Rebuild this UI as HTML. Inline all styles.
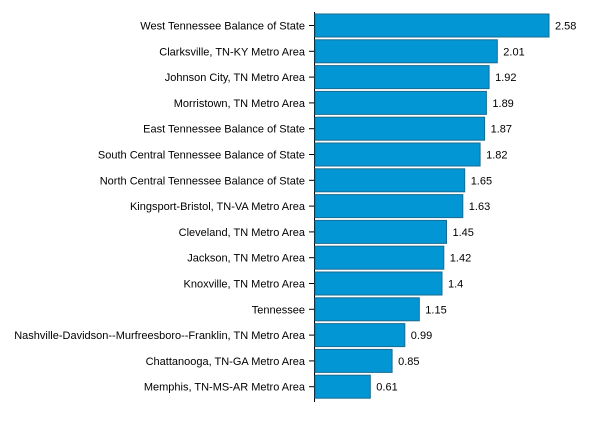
<!DOCTYPE html>
<html><head><style>body{margin:0;background:#fff}</style></head><body>
<svg width="600" height="420" xmlns="http://www.w3.org/2000/svg" font-family="Liberation Sans, sans-serif" font-size="11" fill="#000">
<defs><style>rect{fill:#0396d4;stroke:#1a6b91;stroke-width:1}line{stroke:#000;stroke-width:1}.l{text-anchor:end}</style></defs>
<line x1="314.5" y1="12" x2="314.5" y2="402"/>
<g transform="translate(0,14)"><rect x="315" y="0" width="234" height="23"/><line x1="309" x2="314" y1="11.5" y2="11.5"/><text class="l" x="305" y="15.5">West Tennessee Balance of State</text><text x="555" y="15.5">2.58</text></g>
<g transform="translate(0,39.8)"><rect x="315" y="0" width="182.3" height="23"/><line x1="309" x2="314" y1="11.5" y2="11.5"/><text class="l" x="305" y="15.5">Clarksville, TN-KY Metro Area</text><text x="503.3" y="15.5">2.01</text></g>
<g transform="translate(0,65.6)"><rect x="315" y="0" width="174.1" height="23"/><line x1="309" x2="314" y1="11.5" y2="11.5"/><text class="l" x="305" y="15.5">Johnson City, TN Metro Area</text><text x="495.1" y="15.5">1.92</text></g>
<g transform="translate(0,91.4)"><rect x="315" y="0" width="171.4" height="23"/><line x1="309" x2="314" y1="11.5" y2="11.5"/><text class="l" x="305" y="15.5">Morristown, TN Metro Area</text><text x="492.4" y="15.5">1.89</text></g>
<g transform="translate(0,117.2)"><rect x="315" y="0" width="169.6" height="23"/><line x1="309" x2="314" y1="11.5" y2="11.5"/><text class="l" x="305" y="15.5">East Tennessee Balance of State</text><text x="490.6" y="15.5">1.87</text></g>
<g transform="translate(0,143)"><rect x="315" y="0" width="165.1" height="23"/><line x1="309" x2="314" y1="11.5" y2="11.5"/><text class="l" x="305" y="15.5">South Central Tennessee Balance of State</text><text x="486.1" y="15.5">1.82</text></g>
<g transform="translate(0,168.8)"><rect x="315" y="0" width="149.7" height="23"/><line x1="309" x2="314" y1="11.5" y2="11.5"/><text class="l" x="305" y="15.5">North Central Tennessee Balance of State</text><text x="470.7" y="15.5">1.65</text></g>
<g transform="translate(0,194.6)"><rect x="315" y="0" width="147.8" height="23"/><line x1="309" x2="314" y1="11.5" y2="11.5"/><text class="l" x="305" y="15.5">Kingsport-Bristol, TN-VA Metro Area</text><text x="468.8" y="15.5">1.63</text></g>
<g transform="translate(0,220.4)"><rect x="315" y="0" width="131.5" height="23"/><line x1="309" x2="314" y1="11.5" y2="11.5"/><text class="l" x="305" y="15.5">Cleveland, TN Metro Area</text><text x="452.5" y="15.5">1.45</text></g>
<g transform="translate(0,246.2)"><rect x="315" y="0" width="128.8" height="23"/><line x1="309" x2="314" y1="11.5" y2="11.5"/><text class="l" x="305" y="15.5">Jackson, TN Metro Area</text><text x="449.8" y="15.5">1.42</text></g>
<g transform="translate(0,272)"><rect x="315" y="0" width="127" height="23"/><line x1="309" x2="314" y1="11.5" y2="11.5"/><text class="l" x="305" y="15.5">Knoxville, TN Metro Area</text><text x="448" y="15.5">1.4</text></g>
<g transform="translate(0,297.8)"><rect x="315" y="0" width="104.3" height="23"/><line x1="309" x2="314" y1="11.5" y2="11.5"/><text class="l" x="305" y="15.5">Tennessee</text><text x="425.3" y="15.5">1.15</text></g>
<g transform="translate(0,323.6)"><rect x="315" y="0" width="89.8" height="23"/><line x1="309" x2="314" y1="11.5" y2="11.5"/><text class="l" x="305" y="15.5">Nashville-Davidson--Murfreesboro--Franklin, TN Metro Area</text><text x="410.8" y="15.5">0.99</text></g>
<g transform="translate(0,349.4)"><rect x="315" y="0" width="77.1" height="23"/><line x1="309" x2="314" y1="11.5" y2="11.5"/><text class="l" x="305" y="15.5">Chattanooga, TN-GA Metro Area</text><text x="398.1" y="15.5">0.85</text></g>
<g transform="translate(0,375.2)"><rect x="315" y="0" width="55.3" height="23"/><line x1="309" x2="314" y1="11.5" y2="11.5"/><text class="l" x="305" y="15.5">Memphis, TN-MS-AR Metro Area</text><text x="376.3" y="15.5">0.61</text></g>
</svg>
</body></html>
